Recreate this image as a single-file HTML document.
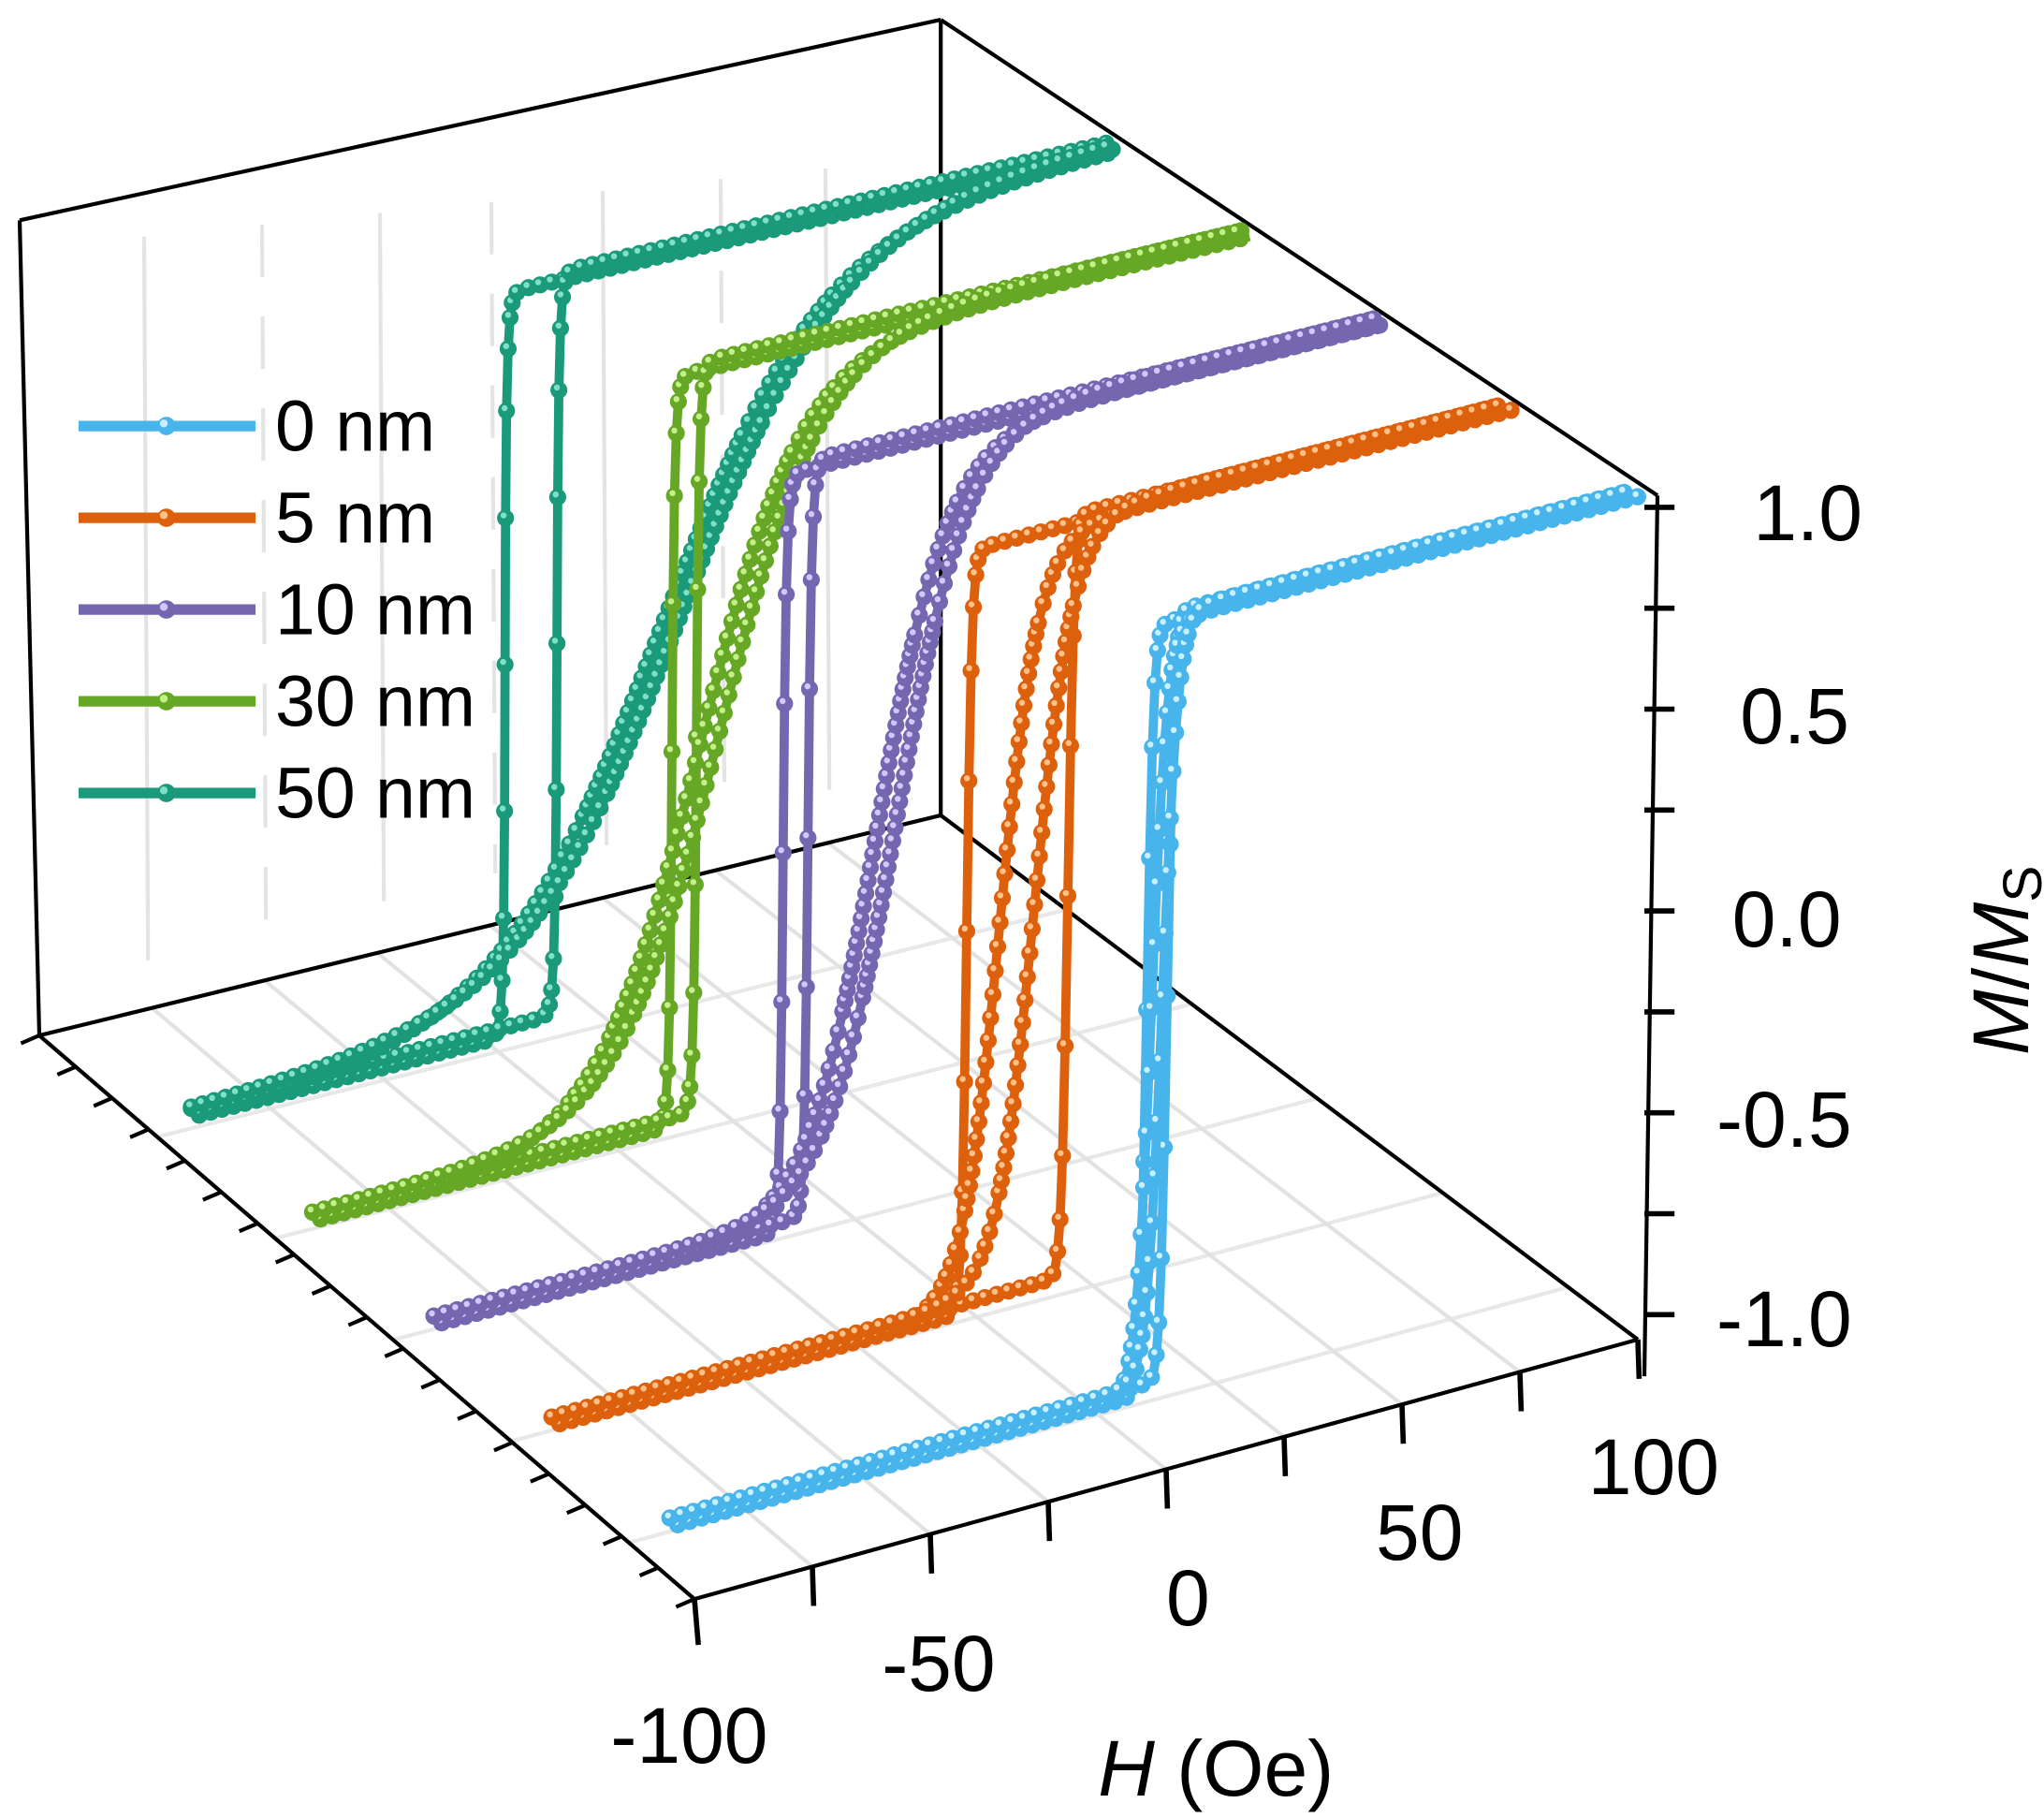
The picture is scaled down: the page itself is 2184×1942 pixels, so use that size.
<!DOCTYPE html>
<html><head><meta charset="utf-8"><style>html,body{margin:0;padding:0;background:#fff}svg{display:block}</style></head>
<body>
<svg id="s" width="2184" height="1942" viewBox="0 0 1560 1387" xmlns="http://www.w3.org/2000/svg" font-family="Liberation Sans, Arial, sans-serif">
<g id="grid"></g>
<g id="box" stroke="#000" fill="none"></g>
<g id="curves"></g>
<g id="axes"></g>
<g id="legend"></g>
<g font-size="60">
<text x="1338" y="412">1.0</text>
<text x="1328" y="567">0.5</text>
<text x="1322" y="722">0.0</text>
<text x="1310" y="875">-0.5</text>
<text x="1310" y="1027">-1.0</text>
<text x="1212" y="1140">100</text>
<text x="1050" y="1190">50</text>
<text x="890" y="1240">0</text>
<text x="673" y="1290">-50</text>
<text x="466" y="1345">-100</text>
<text x="838" y="1370"><tspan font-style="italic">H</tspan> (Oe)</text>
<text transform="translate(1548,805) rotate(-90)"><tspan font-style="italic">M</tspan>/<tspan font-style="italic">M</tspan><tspan font-size="42" dy="10">S</tspan></text>
</g>
<g font-size="55">
<text x="210" y="344">0 nm</text>
<text x="210" y="414">5 nm</text>
<text x="210" y="484">10 nm</text>
<text x="210" y="554">30 nm</text>
<text x="210" y="624">50 nm</text>
</g>
</svg>
<script>
const NS="http://www.w3.org/2000/svg";
const FB=[530,1220],RB=[1250,1022],LB=[30,790],BB=[718,622];
const FT=[520,570],RT=[1265,378],LT=[15,168],BT=[718,15];
function bil(a,b,c,d,u,v){return [0,1].map(i=>(a[i]*(1-u)+b[i]*u)*(1-v)+(c[i]*(1-u)+d[i]*u)*v);}
function P(H,d,M){const u=(H+100)/200;const b=bil(FB,RB,LB,BB,u,d),t=bil(FT,RT,LT,BT,u,d);
 const s=(M+1.06)/2.1;return [b[0]+(t[0]-b[0])*s,b[1]+(t[1]-b[1])*s];}
function el(tag,attrs,parent){const e=document.createElementNS(NS,tag);for(const k in attrs)e.setAttribute(k,attrs[k]);document.getElementById(parent).appendChild(e);return e;}
[110,200,290,375,460,550,630].forEach((x,i)=>{el('line',{x1:x,y1:190-(x-15)*0.1,x2:x+3,y2:760-(x)*0.25,stroke:'#e4e4e4','stroke-width':3,'stroke-dasharray':i%2?'40 30':'none'},'grid');});
for(let d=0.1;d<1;d+=0.18){const a=P(-100,d,-1.06),b=P(100,d,-1.06);el('line',{x1:a[0],y1:a[1],x2:b[0],y2:b[1],stroke:'#e8e8e8','stroke-width':3},'grid');}
for(let H=-75;H<100;H+=25){const a=P(H,0,-1.06),b=P(H,1,-1.06);el('line',{x1:a[0],y1:a[1],x2:b[0],y2:b[1],stroke:'#e2e2e2','stroke-width':3},'grid');}
const lines=[[LT,BT],[BT,RT],[LT,LB],[BT,BB],[LB,FB],[FB,RB],[BB,RB],[LB,BB],[RT,[1255,1050]]];
lines.forEach(l=>el('line',{x1:l[0][0],y1:l[0][1],x2:l[1][0],y2:l[1][1],'stroke-width':3},'box'));
el('line',{x1:530,y1:1220,x2:533,y2:1255,'stroke-width':4},'box');
for(let H=-75;H<=100;H+=25){const a=P(H,0,-1.06);el('line',{x1:a[0],y1:a[1],x2:a[0]+1,y2:a[1]+30,stroke:'#000','stroke-width':4},'axes');}
for(let i=0;i<=18;i++){const v=i/18;const p=[FB[0]+(LB[0]-FB[0])*v,FB[1]+(LB[1]-FB[1])*v];el('line',{x1:p[0],y1:p[1],x2:p[0]-14,y2:p[1]+6,stroke:'#000','stroke-width':3},'axes');}
for(let k=0;k<9;k++){const y=1003-k*77;el('line',{x1:1255,y1:y,x2:1278,y2:y,stroke:'#000','stroke-width':4},'axes');}
const S=[
 {d:0.76,c:'#1a9a7a',hi:'#7fe0c8',sharp:[-32,-19],broad:[2,8],bw:35},
 {d:0.575,c:'#66a826',hi:'#c4f08a',sharp:[-23,-16],broad:[-17,-11],bw:22},
 {d:0.39,c:'#7566b0',hi:'#d2c8ff',sharp:[-26,-19],broad:[-6,0],bw:15},
 {d:0.21,c:'#dd600c',hi:'#ffc08a',sharp:[-13,10],broad:[-6,3],bw:8},
 {d:0.03,c:'#47b4ec',hi:'#c8f0ff',sharp:[-1,5],broad:[0,4],bw:3}];
function M(H,c,w){return 0.95*Math.tanh((H-c)/w)+0.05+0.0001*H;}
S.forEach(s=>{
 const branches=[[s.sharp[0],1.2],[s.sharp[1],1.2],[s.broad[0],s.bw],[s.broad[1],s.bw]];
 branches.forEach(([c,w],bi)=>{
  const pts=[];for(let H=-100;H<=100.01;H+=0.5){pts.push(P(H,s.d+(bi%2?0.006:-0.006),M(H,c,w)));}
  el('polyline',{points:pts.map(p=>p.join(',')).join(' '),fill:'none',stroke:s.c,'stroke-width':7,'stroke-linejoin':'round'},'curves');
  let last=null;
  pts.forEach(p=>{if(!last||Math.hypot(p[0]-last[0],p[1]-last[1])>8){last=p;
   el('circle',{cx:p[0],cy:p[1],r:6.5,fill:s.c},'curves');
   el('circle',{cx:p[0]-1.5,cy:p[1]-2,r:2.3,fill:s.hi},'curves');}});
 });
});
S.slice().reverse().forEach((s,i)=>{const y=325+i*70;
 el('line',{x1:60,y1:y,x2:195,y2:y,stroke:s.c,'stroke-width':8},'legend');
 el('circle',{cx:127,cy:y,r:7,fill:s.c},'legend');
 el('circle',{cx:125,cy:y-2,r:3,fill:s.hi},'legend');});
</script>
</body></html>
